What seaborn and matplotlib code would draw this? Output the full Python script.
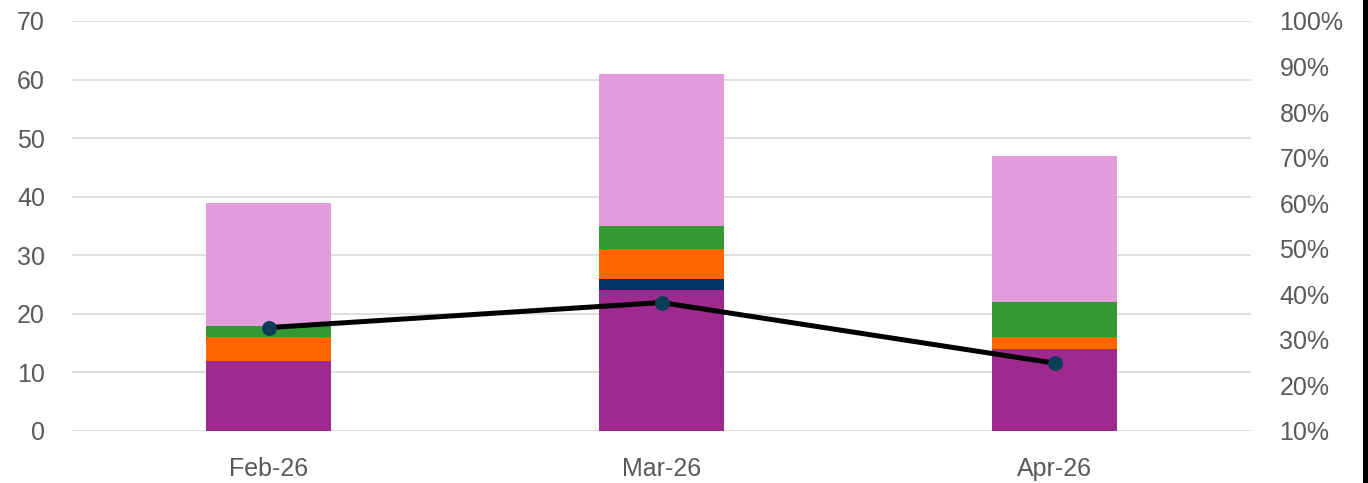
import numpy as np
import matplotlib
matplotlib.use("Agg")
import matplotlib.pyplot as plt
from matplotlib.patches import Rectangle
import seaborn as sns

months = ["Feb-26", "Mar-26", "Apr-26"]
seg_purple = [12, 24, 14]
seg_navy = [0, 2, 0]
seg_orange = [4, 5, 2]
seg_green = [2, 4, 6]
seg_pink = [21, 26, 25]
rate = [0.327, 0.382, 0.249]

left_ticks = [0, 10, 20, 30, 40, 50, 60, 70]
right_ticks = [0.1, 0.2, 0.3, 0.4, 0.5, 0.6, 0.7, 0.8, 0.9, 1.0]

colors = ["#9e2a8f", "#003366", "#ff6600", "#339933", "#e29bdb"]
layers = [seg_purple, seg_navy, seg_orange, seg_green, seg_pink]

sns.set_theme(style="white")
plt.rcParams["font.family"] = ["Liberation Sans", "DejaVu Sans"]

fig = plt.figure(figsize=(13.68, 4.83), dpi=100)
ax = fig.add_axes([72 / 1368, 52 / 483, (1251 - 72) / 1368, 410 / 483])

bottom = np.zeros(len(months))
for vals, c in zip(layers, colors):
    v = np.array(vals, dtype=float)
    sns.barplot(x=months, y=v, bottom=bottom, color=c, width=0.316,
                saturation=1, ax=ax, linewidth=0, zorder=2)
    bottom = bottom + v

ax.set_xlim(-0.5, 2.5)
ax.set_ylim(0, 70)
ax.set_yticks(left_ticks)
ax.yaxis.grid(True, color="#d9d9d9", linewidth=1.2, zorder=0)
ax.set_axisbelow(True)
for s in ax.spines.values():
    s.set_visible(False)
ax.tick_params(axis="both", length=0, labelsize=18, colors="#595959")
ax.tick_params(axis="y", pad=19.5)
ax.tick_params(axis="x", pad=19)
ax.set_xlabel("")
ax.set_ylabel("")

ax2 = ax.twinx()
sns.lineplot(x=np.arange(len(months)), y=rate, ax=ax2, color="black",
             linewidth=3.6, marker="o", markersize=10,
             markerfacecolor="#0e3d57", markeredgecolor="#0e3d57", zorder=5)
ax2.set_ylim(0.1, 1.0)
ax2.set_yticks(right_ticks)
ax2.set_yticklabels([f"{int(round(t * 100))}%" for t in right_ticks])
for s in ax2.spines.values():
    s.set_visible(False)
ax2.tick_params(axis="y", length=0, labelsize=18, colors="#595959", pad=20.5)
ax2.set_ylabel("")
ax2.set_xlim(-0.5, 2.5)

fig.patches.append(Rectangle((1363 / 1368, 0), 5 / 1368, 1, transform=fig.transFigure,
                             facecolor="black", edgecolor="none", zorder=10))

fig.savefig("out.png", dpi=100)
